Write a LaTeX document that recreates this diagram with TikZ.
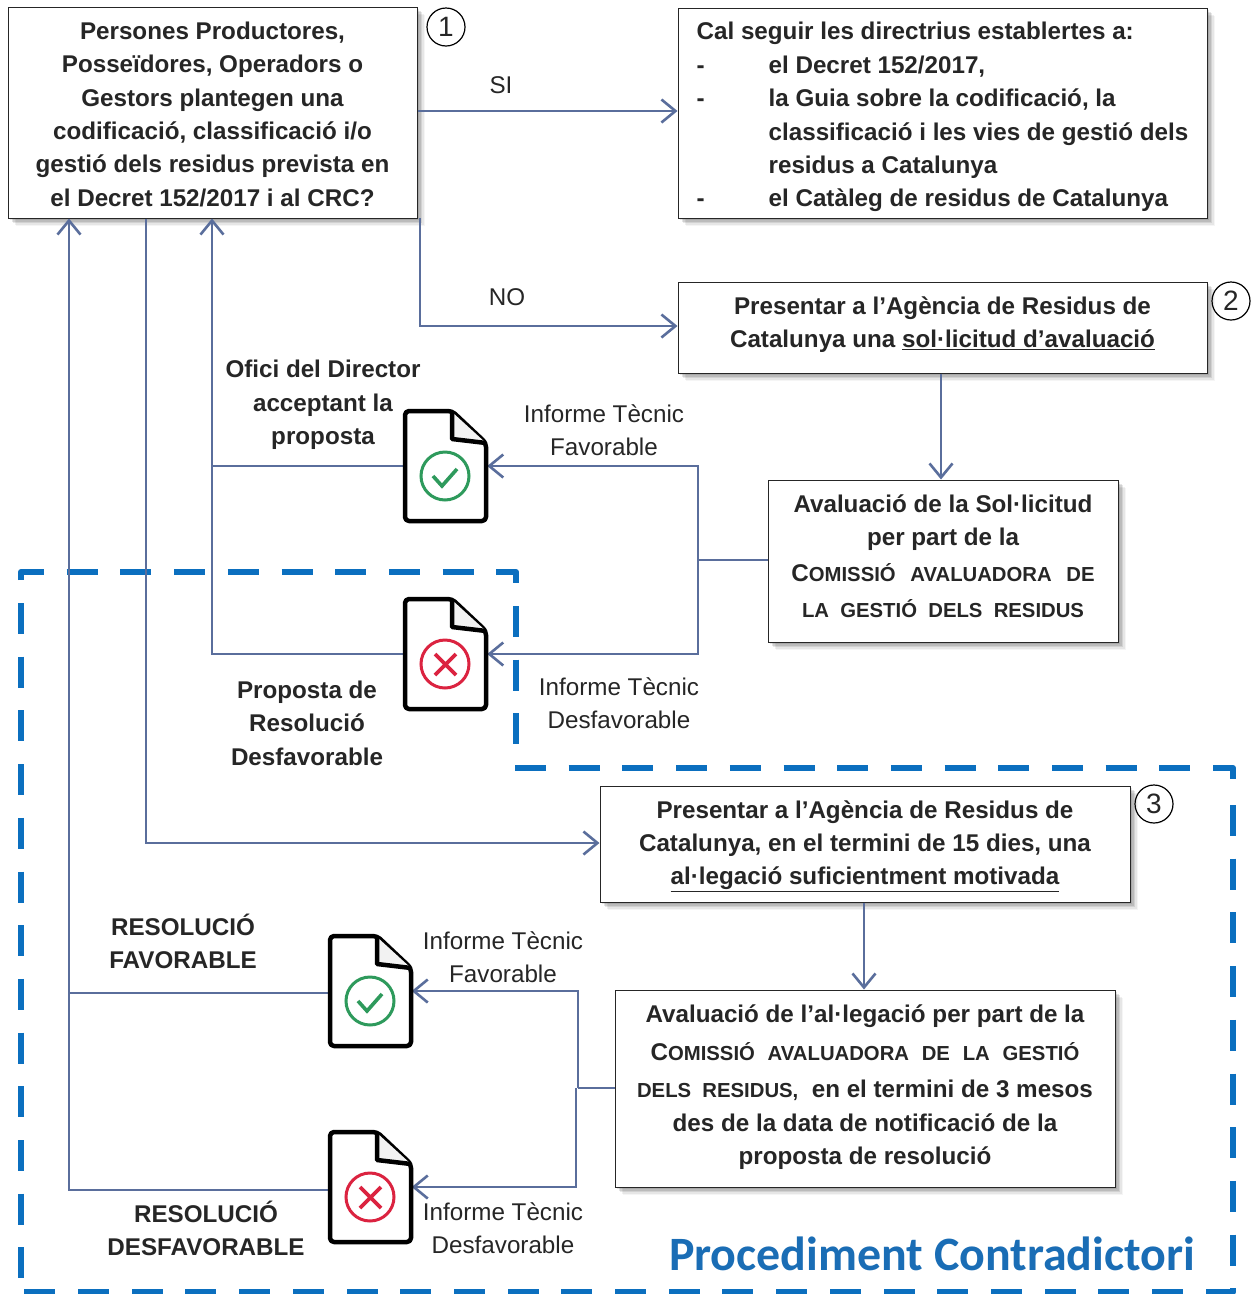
\documentclass[tikz,border=0pt]{standalone}
\usepackage{fontspec}
\setmainfont{Liberation Sans}
\newfontfamily\titlefont{Carlito}
\usetikzlibrary{arrows.meta,shadows,calc}
\definecolor{conn}{HTML}{5A6E9C}
\definecolor{dashblue}{HTML}{0B6FBF}
\definecolor{titleblue}{HTML}{1A6DB5}
\definecolor{okgreen}{HTML}{2E9A5C}
\definecolor{badred}{HTML}{DB2340}
\newcommand{\smc}[2]{#1{\fontsize{20.3}{20}\selectfont #2}}
\newcommand{\pushup}[1]{\\[-#1pt]\mbox{}}
\newcommand{\topgap}[1]{\rule{0pt}{#1pt}}
\tikzset{
  x=1pt,y=-1pt,
  softshadow/.style={
    general shadow={shadow xshift=2pt,shadow yshift=-2pt,fill=black,opacity=.10},
    general shadow={shadow xshift=3.5pt,shadow yshift=-3.5pt,fill=black,opacity=.10},
    general shadow={shadow xshift=5pt,shadow yshift=-5pt,fill=black,opacity=.09},
    general shadow={shadow xshift=6.5pt,shadow yshift=-6.5pt,fill=black,opacity=.06},
    general shadow={shadow xshift=8pt,shadow yshift=-8pt,fill=black,opacity=.04}},
  boxed/.style={draw=black!85,line width=1pt,fill=white,inner sep=0pt,align=center,
    font=\fontsize{24.2}{33.4}\selectfont\bfseries,text=black!85,softshadow},
  bl/.style={font=\fontsize{24.2}{33.4}\selectfont\bfseries,text=black!85,align=center,inner sep=0pt},
  rl/.style={font=\fontsize{24.2}{33.4}\selectfont,text=black!85,align=center,inner sep=0pt},
  wire/.style={draw=conn,line width=2.8pt},
  arr/.style={wire,-{Straight Barb[length=14pt,width=23pt,line width=2.6pt]}},
  dashline/.style={draw=dashblue,line width=6pt,dash pattern=on 31pt off 22.7pt},
  numc/.style={circle,draw=black,line width=1.2pt,minimum size=38pt,inner sep=0pt,font=\fontsize{28}{28}\selectfont,text=black!85},
  dockey/.style={minimum width=83pt,minimum height=112pt,inner sep=0pt},
  docline/.style={draw=black,line width=4.5pt,line join=round},
}
\newcommand{\docicon}[4]{% x y (top-left) colour kind
  \begin{scope}[shift={(#1,#2)}]
    \path[docline,fill=white,rounded corners=4pt] (0,0) -- (47,0) -- (81,32) -- (81,110) -- (0,110) -- cycle;
    \path[docline,fill=black!5,line join=round] (47,1) -- (47,28) -- (81,32);
    \draw[#3,line width=3pt] (40,65) circle (24);
    \ifnum#4=1
      \draw[#3,line width=3.6pt] (28,65) -- (37,75) -- (52,58);
    \else
      \draw[#3,line width=3.6pt] (30,55) -- (51,76) (51,55) -- (30,76);
    \fi
  \end{scope}}
\begin{document}
\begin{tikzpicture}
\useasboundingbox (0,0) rectangle (1256,1294);
\fill[white] (0,0) rectangle (1256,1294);
% dashed region
\path[dashline,line join=round] (21,580) -- (21,572) -- (516,572) -- (516,745);
\path[dashline,line join=round] (515,768) -- (1233,768) -- (1233,782);
\path[dashline,line join=round] (1233,805) -- (1233,1292) -- (23,1292);
\path[dashline] (21,603) -- (21,1280);
% boxes
\node[boxed,minimum width=409pt,minimum height=211pt] (a) at (212.5,112.5) {\topgap{21}Persones Productores,\\Posseïdores, Operadors o\\Gestors plantegen una\\codificació, classificació i/o\\gestió dels residus prevista en\\el Decret 152/2017 i al CRC?};
\node[boxed,minimum width=529pt,minimum height=210pt,align=left] (b) at (942.5,113) {\makebox[491pt][l]{\topgap{26}Cal seguir les directrius establertes a:}\\\makebox[72pt][l]{-}el Decret 152/2017,\\\makebox[72pt][l]{-}la Guia sobre la codificació, la\\\makebox[72pt][l]{}classificació i les vies de gestió dels\\\makebox[72pt][l]{}residus a Catalunya\\\makebox[72pt][l]{-}el Catàleg de residus de Catalunya};
\node[boxed,minimum width=529pt,minimum height=91pt] (c) at (942.5,327.5) {Presentar a l’Agència de Residus de\\Catalunya una \underline{sol·licitud d’avaluació}\pushup{22.4}};
\node[boxed,minimum width=350pt,minimum height=162pt] (d) at (943,561) {Avaluació de la Sol·licitud\\per part de la\\[2pt]\smc{C}{OMISSIÓ\ \ \,AVALUADORA\ \ \,DE}\\[3pt]\smc{}{LA\ \ GESTIÓ\ \ DELS\ \ RESIDUS}\pushup{24}};
\node[boxed,minimum width=530pt,minimum height=116pt] (e) at (865,844) {\topgap{22}Presentar a l’Agència de Residus de\\Catalunya, en el termini de 15 dies, una\\\underline{al·legació suficientment motivada}};
\node[boxed,minimum width=500pt,minimum height=197pt] (f) at (865,1088.5) {Avaluació de l’al·legació per part de la\\[4pt]\smc{C}{OMISSIÓ\ \ \kern1.5pt AVALUADORA\ \ \kern1.5pt DE\ \ \kern1.5pt LA\ \ \kern1.5pt GESTIÓ}\\[4pt]\smc{}{DELS\ \ RESIDUS,}\ \ en el termini de 3 mesos\\des de la data de notificació de la\\proposta de resolució\pushup{26}};
% number circles
\node[numc] (n1) at (446,27) {1};
\node[numc] (n2) at (1231,301) {2};
\node[numc] (n3) at (1154,804) {3};
% document icons anchors
\node[dockey] (d1) at (445.5,466) {};
\node[dockey] (d2) at (445.5,654) {};
\node[dockey] (d3) at (370,991) {};
\node[dockey] (d4) at (370,1187) {};
% junctions
\coordinate (jd) at (698,560);
\coordinate (jf) at (578,1088);
\coordinate (trunk) at (69,1190);
% connectors
\draw[arr] (a.east |- 0,111) -- (b.west |- 0,111);
\draw[arr] (420,218) -- (420,326) -- (c.west |- 0,326);
\draw[arr] (c.south -| 941,0) -- (d.north -| 941,0);
\draw[wire] (d.west |- jd) -- (jd);
\draw[arr] (jd) -- (698,466) -- (d1.east);
\draw[arr] (jd) -- (698,654) -- (d2.east);
\draw[arr] (d1.west) -- (212,466) -- (a.south -| 212,0);
\draw[wire] (d2.west) -- (212,654) -- (212,466);
\draw[arr] (a.south -| 146,0) -- (146,843) -- (e.west |- 0,843);
\draw[arr] (e.south -| 864,0) -- (f.north -| 864,0);
\draw[wire] (f.west |- jf) -- (jf);
\draw[arr] (jf) -- (578,991) -- (d3.east);
\draw[arr] (576,1088) -- (576,1187) -- (d4.east);
\draw[arr] (d4.west |- trunk) -- (trunk) -- (a.south -| 69,0);
\draw[wire] (d3.west |- 0,993) -- (69,993);
% icons
\docicon{405}{411}{okgreen}{1}
\docicon{405}{599}{badred}{0}
\docicon{330}{936}{okgreen}{1}
\docicon{330}{1132}{badred}{0}
% labels
\node[rl] (si) at (501,85) {SI};
\node[rl] (no) at (507,297) {NO};
\node[bl] (l1) at (323,405) {Ofici del Director\\acceptant la\\proposta};
\node[rl] (l2) at (604,430) {Informe Tècnic\\Favorable};
\node[bl] (l3) at (307,723) {Proposta de\\Resolució\\Desfavorable};
\node[rl] (l4) at (619,703) {Informe Tècnic\\Desfavorable};
\node[bl] (l5) at (183,941.5) {RESOLUCIÓ\\FAVORABLE};
\node[rl] (l6) at (503,957) {Informe Tècnic\\Favorable};
\node[bl] (l7) at (206,1228.5) {RESOLUCIÓ\\DESFAVORABLE};
\node[rl] (l8) at (503,1228) {Informe Tècnic\\Desfavorable};
\node[inner sep=0pt,font=\titlefont\fontsize{47.9}{47.9}\selectfont\bfseries,text=titleblue] (t) at (932,1254) {Procediment Contradictori};
\end{tikzpicture}
\end{document}
